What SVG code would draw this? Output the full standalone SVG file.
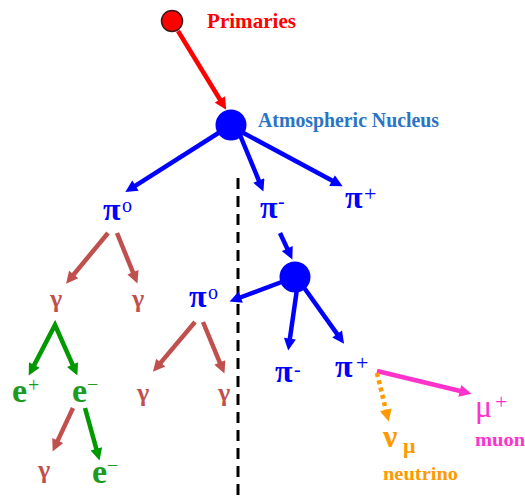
<svg xmlns="http://www.w3.org/2000/svg" width="525" height="497" viewBox="0 0 525 497">
<style>
.t{font-family:"Liberation Serif","Times New Roman",serif;font-weight:bold}
.sup{font-family:"Liberation Serif","Times New Roman",serif;font-weight:normal}
.blue{fill:#0000FF}
.red{fill:#C0504D}
.grn{fill:#1E9A1E}
.a{fill:none;stroke-width:4.5}
.ab{stroke:#0000FF;marker-end:url(#hb)}
.ar{stroke:#C0504D;marker-end:url(#hr)}
.ag{stroke:#009900;marker-end:url(#hg)}
</style>
<defs>
<marker id="hb" viewBox="0 0 10 10" refX="3" refY="5" markerWidth="14" markerHeight="12" markerUnits="userSpaceOnUse" orient="auto"><path d="M0,0 L10,5 L0,10 z" fill="#0000FF"/></marker>
<marker id="hr" viewBox="0 0 10 10" refX="3" refY="5" markerWidth="14" markerHeight="12" markerUnits="userSpaceOnUse" orient="auto"><path d="M0,0 L10,5 L0,10 z" fill="#C0504D"/></marker>
<marker id="hg" viewBox="0 0 10 10" refX="3" refY="5" markerWidth="14" markerHeight="12" markerUnits="userSpaceOnUse" orient="auto-start-reverse"><path d="M0,0 L10,5 L0,10 z" fill="#009900"/></marker>
<marker id="hred" viewBox="0 0 10 10" refX="3" refY="5" markerWidth="14" markerHeight="12" markerUnits="userSpaceOnUse" orient="auto"><path d="M0,0 L10,5 L0,10 z" fill="#FF0000"/></marker>
<marker id="hm" viewBox="0 0 10 10" refX="3" refY="5" markerWidth="14" markerHeight="12" markerUnits="userSpaceOnUse" orient="auto"><path d="M0,0 L10,5 L0,10 z" fill="#FF33CC"/></marker>
<marker id="ho" viewBox="0 0 10 10" refX="3" refY="5" markerWidth="14" markerHeight="12" markerUnits="userSpaceOnUse" orient="auto"><path d="M0,0 L10,5 L0,10 z" fill="#FF9900"/></marker>
</defs>
<rect width="525" height="497" fill="#FFFFFF"/>
<line id="divider" x1="238" y1="178" x2="238" y2="497" stroke="#000" stroke-width="3" stroke-dasharray="11 7"/>
<g id="connectors">
<line class="a" x1="178" y1="31" x2="221.8" y2="102.5" stroke="#FF0000" stroke-width="3.5" marker-end="url(#hred)"/>
<line class="a ab" x1="231" y1="125" x2="132.4" y2="187.6"/>
<line class="a ab" x1="240" y1="135" x2="260.2" y2="183.8"/>
<line class="a ab" x1="238" y1="130" x2="335.2" y2="182.3"/>
<line class="a ab" x1="280" y1="233" x2="288.8" y2="251.9"/>
<line class="a ab" x1="295" y1="277" x2="237.4" y2="298.5"/>
<line class="a ab" x1="298" y1="282" x2="289.4" y2="342.1"/>
<line class="a ab" x1="300" y1="282" x2="339.2" y2="336.9"/>
<line class="a ar" x1="108" y1="233" x2="71.4" y2="277.3"/>
<line class="a ar" x1="117" y1="233" x2="134.3" y2="275.7"/>
<line class="a ar" x1="195" y1="322" x2="158.4" y2="365.4"/>
<line class="a ar" x1="203" y1="322" x2="221.2" y2="365.8"/>
<line class="a ar" x1="73" y1="408" x2="56.2" y2="443.9"/>
<path class="a" d="M32.6,368.1 L55,325 L74,367.9" stroke="#009900" marker-start="url(#hg)" marker-end="url(#hg)"/>
<line class="a ag" x1="85" y1="408" x2="97.3" y2="452.4"/>
<line class="a" x1="377" y1="371" x2="463.3" y2="391.7" stroke="#FF33CC" marker-end="url(#hm)"/>
<line class="a" x1="377" y1="373" x2="386.7" y2="413.3" stroke="#FF9900" stroke-dasharray="4 3.5" marker-end="url(#ho)"/>
</g>
<g id="primaries">
<circle cx="172" cy="21" r="10.5" fill="#FF0000" stroke="#3A1A1A" stroke-width="1.5"/>
<text class="t" x="207" y="28" font-size="21" fill="#FF0000" textLength="89" lengthAdjust="spacingAndGlyphs">Primaries</text>
</g>
<g id="nucleus">
<circle cx="231" cy="125" r="15.5" fill="#0000FF"/>
<text class="t" x="258" y="127" font-size="20" fill="#2A74C6" textLength="181" lengthAdjust="spacingAndGlyphs">Atmospheric Nucleus</text>
</g>
<g id="pi0-a"><text class="t blue" x="103" y="220" font-size="32">π</text><text class="sup blue" x="122" y="212" font-size="20" font-weight="bold">o</text></g>
<g id="piminus-a"><text class="t blue" x="260" y="218" font-size="32">π</text><text class="sup blue" x="278" y="208" font-size="20">-</text></g>
<g id="piplus-a"><text class="t blue" x="345" y="208" font-size="32">π</text><text class="sup blue" x="364" y="201" font-size="22">+</text></g>
<g id="nucleus2"><circle cx="295" cy="277" r="15.5" fill="#0000FF"/></g>
<g id="pi0-b"><text class="t blue" x="189" y="307" font-size="32">π</text><text class="sup blue" x="208" y="299" font-size="20" font-weight="bold">o</text></g>
<g id="piminus-b"><text class="t blue" x="275" y="382" font-size="32">π</text><text class="sup blue" x="294" y="376" font-size="20">-</text></g>
<g id="piplus-b"><text class="t blue" x="335" y="377" font-size="32">π</text><text class="sup blue" x="356" y="370" font-size="22">+</text></g>
<g id="gamma-1"><text class="t red" x="50" y="307" font-size="26">γ</text></g>
<g id="gamma-2"><text class="t red" x="132" y="307" font-size="26">γ</text></g>
<g id="gamma-3"><text class="t red" x="137" y="401" font-size="26">γ</text></g>
<g id="gamma-4"><text class="t red" x="218" y="401" font-size="26">γ</text></g>
<g id="gamma-5"><text class="t red" x="38" y="478" font-size="26">γ</text></g>
<g id="eplus"><text class="t grn" x="12" y="402" font-size="34">e</text><text class="sup grn" x="28" y="392" font-size="20">+</text></g>
<g id="eminus-a"><text class="t grn" x="72" y="402" font-size="34">e</text><text class="sup grn" x="87" y="391" font-size="20">−</text></g>
<g id="eminus-b"><text class="t grn" x="92" y="483" font-size="34">e</text><text class="sup grn" x="107" y="472" font-size="20">−</text></g>
<g id="neutrino"><text class="t" x="383" y="447" font-size="32" fill="#FF9900">ν</text><text class="t" x="403" y="453" font-size="22" fill="#FF9900">μ</text><text class="t" x="383" y="480" font-size="18" fill="#FF9900" textLength="75" lengthAdjust="spacingAndGlyphs">neutrino</text></g>
<g id="muon"><text class="sup" x="475" y="417" font-size="32" fill="#FF33CC">μ</text><text class="sup" x="495" y="409" font-size="22" fill="#FF33CC">+</text><text class="t" x="475" y="446" font-size="18" fill="#FF33CC" textLength="50" lengthAdjust="spacingAndGlyphs">muon</text></g>
</svg>
